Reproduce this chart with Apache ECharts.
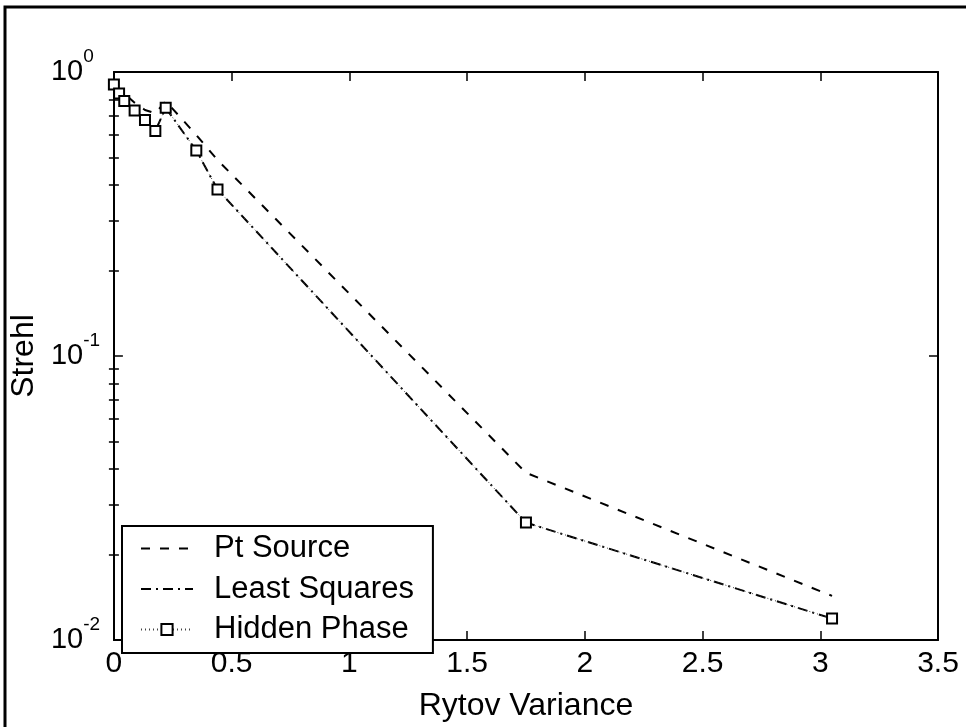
<!DOCTYPE html>
<html><head><meta charset="utf-8">
<script src="https://cdn.jsdelivr.net/npm/echarts@6/dist/echarts.min.js"></script>
<style>html,body{margin:0;padding:0;background:#fff}#c{width:969px;height:727px}</style>
</head><body><div id="c"></div>
<script>
const rytov        = [0, 0.022, 0.044, 0.088, 0.132, 0.176, 0.22, 0.35, 0.44, 1.75, 3.05];
const ptSource     = [0.904, 0.87, 0.84, 0.78, 0.735, 0.715, 0.79, 0.60, 0.49, 0.0388, 0.0143];
const leastSquares = [0.904, 0.84, 0.79, 0.732, 0.678, 0.62, 0.748, 0.529, 0.386, 0.0259, 0.0119];
const hiddenPhase  = [0.904, 0.84, 0.79, 0.732, 0.678, 0.62, 0.748, 0.529, 0.386, 0.0259, 0.0119];
const seriesNames  = ['Pt Source', 'Least Squares', 'Hidden Phase'];
const yMajor = [0.01, 0.1, 1];
const yMinor = [0.02,0.03,0.04,0.05,0.06,0.07,0.08,0.09,0.2,0.3,0.4,0.5,0.6,0.7,0.8,0.9];

const FONT = 'Liberation Sans, Arial, sans-serif';
const pairs = ys => rytov.map((x, i) => [x, ys[i]]);
const axisLine = {show:true, onZero:false, lineStyle:{color:'#000', width:2}};

function yAxisCfg(pos, ticks, len, line, labels) {
  return {
    type:'log', logBase:10, min:0.01, max:1, position:pos,
    axisLine: line ? axisLine : {show:false},
    axisTick:{show:true, inside:true, length:len, customValues:ticks, lineStyle:{color:'#000', width:1.5}},
    axisLabel: labels ? {
      show:true, customValues:yMajor, align:'left', margin:63,
      formatter: v => '{b|10}{s|' + Math.round(Math.log10(v)) + '}',
      rich:{
        b:{fontSize:29, fontFamily:FONT, color:'#000', lineHeight:50},
        s:{fontSize:19, fontFamily:FONT, color:'#000', lineHeight:19, verticalAlign:'top'}
      }
    } : {show:false},
    splitLine:{show:false}, minorTick:{show:false}, minorSplitLine:{show:false}
  };
}

const yAxes = [
  yAxisCfg('left', yMajor, 9, true, true),
  yAxisCfg('left', yMinor, 5, false, false),
  yAxisCfg('right', yMajor, 9, true, false),
  yAxisCfg('right', yMinor, 5, false, false)
];
yAxes[0].name = 'Strehl';
yAxes[0].nameLocation = 'middle';
yAxes[0].nameGap = 66;
yAxes[0].nameRotate = 90;
yAxes[0].nameTextStyle = {fontSize:32, fontFamily:FONT, color:'#000'};

const option = {
  animation:false,
  backgroundColor:'#fff',
  grid:{left:113, right:31, top:72, bottom:74, containLabel:false},
  xAxis:[
    {type:'value', min:0, max:3.5, interval:0.5, position:'bottom', axisLine,
     axisTick:{inside:true, length:9, lineStyle:{color:'#000', width:1.5}},
     axisLabel:{color:'#000', fontSize:30, fontFamily:FONT, margin:9},
     splitLine:{show:false},
     name:'Rytov Variance', nameLocation:'middle', nameGap:50,
     nameTextStyle:{fontSize:32, fontFamily:FONT, color:'#000'}},
    {type:'value', min:0, max:3.5, interval:0.5, position:'top', axisLine,
     axisTick:{inside:true, length:9, lineStyle:{color:'#000', width:1.5}},
     axisLabel:{show:false}, splitLine:{show:false}}
  ],
  yAxis: yAxes,
  legend:{
    orient:'vertical', left:122, top:526,
    padding:[7, 19, 8, 18], itemWidth:52, itemHeight:14, itemGap:9.5,
    borderColor:'#000', borderWidth:2, backgroundColor:'#fff',
    textStyle:{fontSize:31, fontFamily:FONT, color:'#000', lineHeight:28, padding:[0,0,0,16]},
    data: [
      {name:seriesNames[0], itemStyle:{opacity:0}},
      {name:seriesNames[1], itemStyle:{opacity:0}},
      {name:seriesNames[2]}
    ]
  },
  graphic:[{type:'polyline', silent:true, z:100,
    shape:{points:[[5,727],[5,7],[966,7]]},
    style:{stroke:'#000', lineWidth:3, fill:null}}],
  series:[
    {name:seriesNames[0], type:'line', data:pairs(ptSource), symbol:'none',
     lineStyle:{color:'#000', width:2, type:[9,10]}, itemStyle:{color:'#000'}, z:3},
    {name:seriesNames[1], type:'line', data:pairs(leastSquares), symbol:'none',
     lineStyle:{color:'#000', width:2, type:[10,5,2,5]}, itemStyle:{color:'#000'}, z:3},
    {name:seriesNames[2], type:'line', data:pairs(hiddenPhase), symbol:'emptyRect', symbolSize:10,
     showAllSymbol:true,
     lineStyle:{color:'#444', width:1, type:[1,3]},
     itemStyle:{color:'#000', borderColor:'#000', borderWidth:2}, z:4}
  ]
};
const chart = echarts.init(document.getElementById('c'), null, {renderer:'canvas'});
chart.setOption(option);
</script></body></html>
